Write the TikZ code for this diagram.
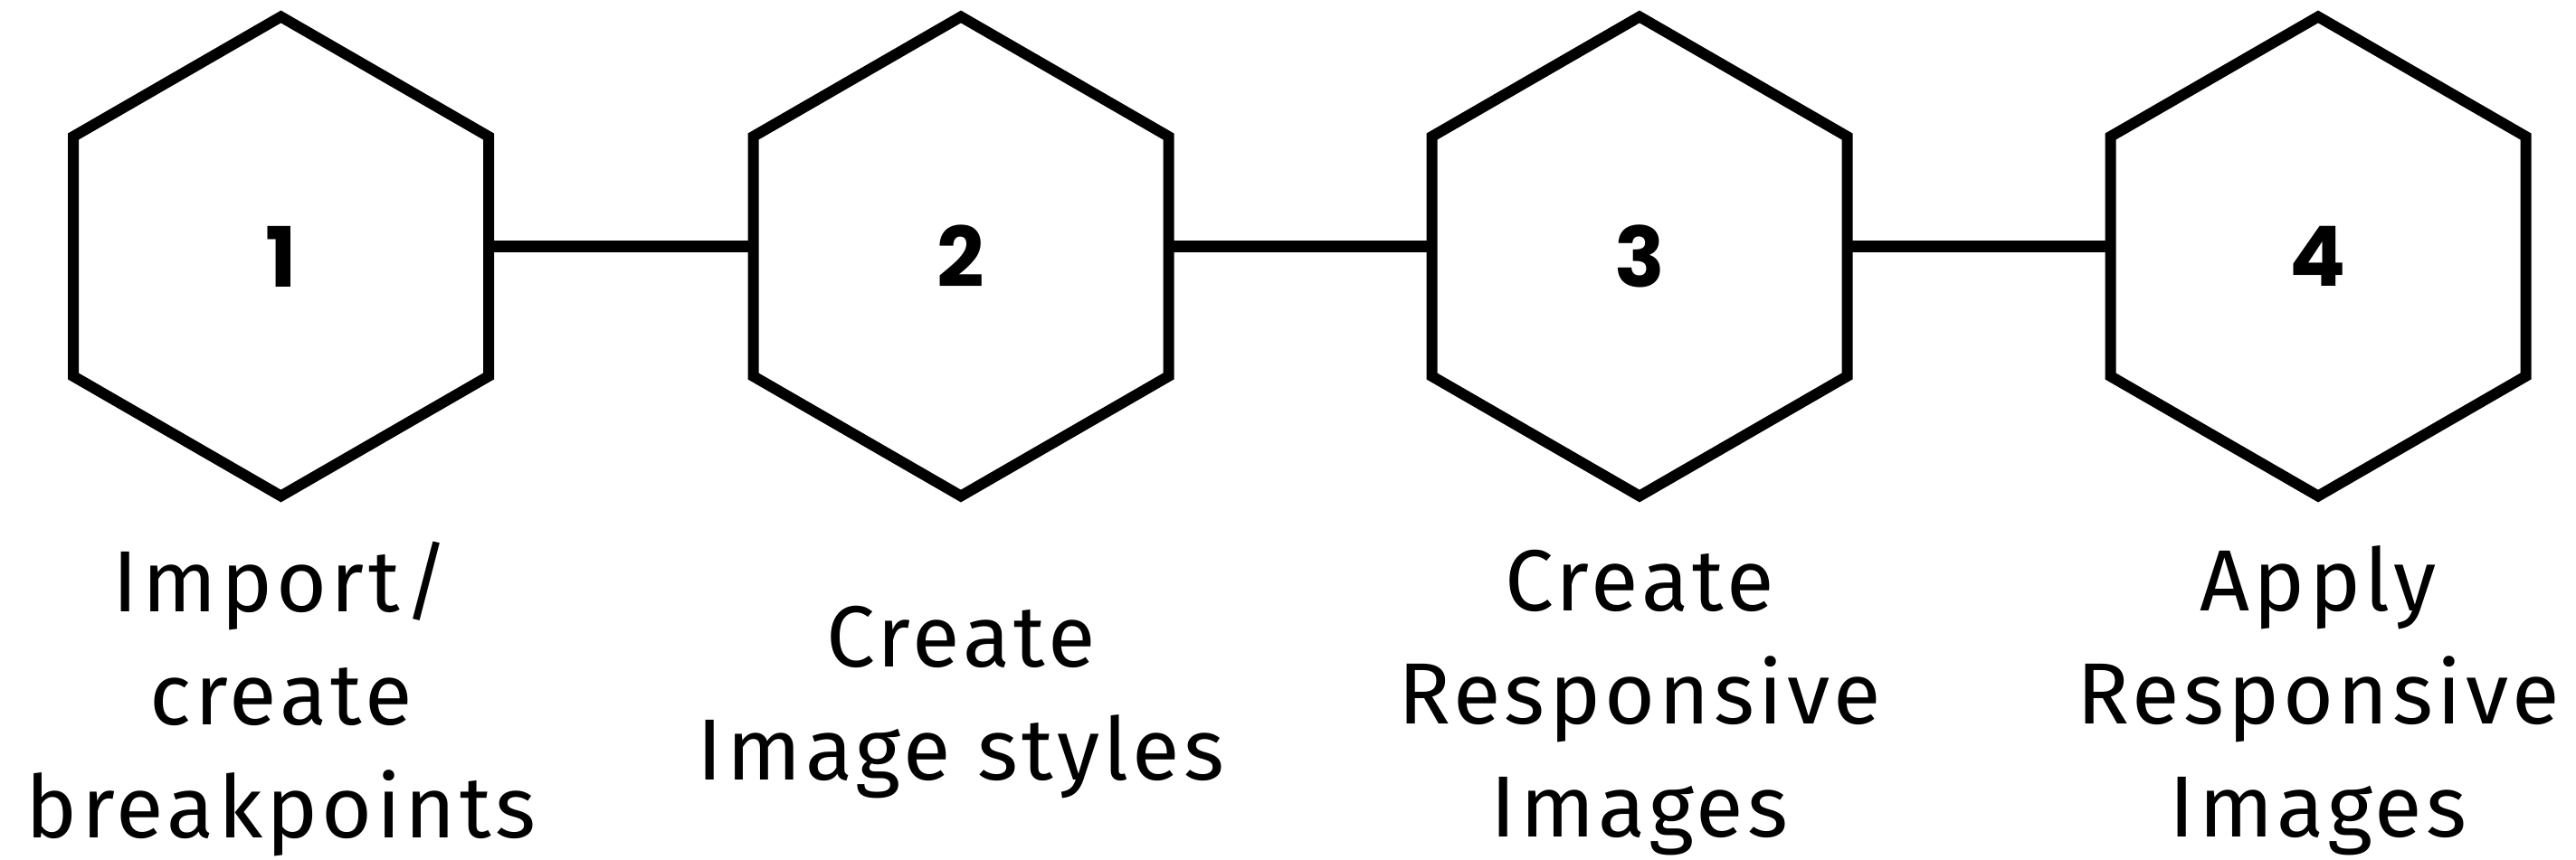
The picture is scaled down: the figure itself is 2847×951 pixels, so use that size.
\documentclass[tikz,border=0pt]{standalone}
\usepackage{fontspec}
\setmainfont{Fira Sans}[LetterSpace=4.5]
\newfontfamily\numfont{Poppins}[UprightFont=*-Bold]
\usetikzlibrary{shapes.geometric}
\begin{document}
\begin{tikzpicture}[x=0.25pt,y=-0.25pt,
  hexa/.style={regular polygon, regular polygon sides=6, shape border rotate=30,
    draw=black, line width=3pt, minimum size=132.5pt, inner sep=0pt, outer sep=0pt,
    font=\numfont\fontsize{23}{23}\selectfont},
  link/.style={line width=3.2pt},
  lbl/.style={anchor=base, align=center, inner sep=0pt,
    font=\fontsize{24}{31.25}\selectfont}]
\useasboundingbox (0,0) rectangle (2847,951);
\node[hexa] (h1) at (310.5,283.5) {1};
\node[hexa] (h2) at (1062,283.5) {2};
\node[hexa] (h3) at (1812,283.5) {3};
\node[hexa] (h4) at (2562,283.5) {4};
\draw[link] ([yshift=2.75pt]h1.east) -- ([yshift=2.75pt]h2.west);
\draw[link] ([yshift=2.75pt]h2.east) -- ([yshift=2.75pt]h3.west);
\draw[link] ([yshift=2.75pt]h3.east) -- ([yshift=2.75pt]h4.west);
\node[lbl] (t1) at (310.5,926) {Import/\\create\\breakpoints};
\node[lbl] (t2) at (1062,862) {Create\\Image styles};
\node[lbl] (t3) at (1812,925) {Create\\Responsive\\Images};
\node[lbl] (t4) at (2562,925) {Apply\\Responsive\\Images};
\end{tikzpicture}
\end{document}
